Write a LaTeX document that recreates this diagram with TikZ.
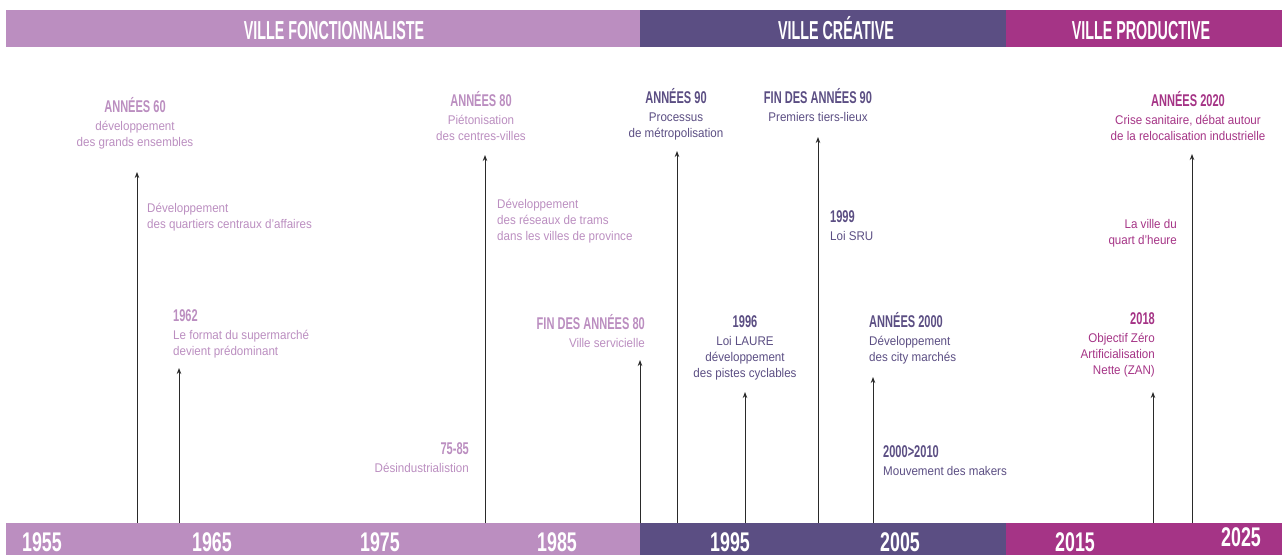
\documentclass[tikz,border=0pt]{standalone}
\usepackage{fontspec}
\usetikzlibrary{arrows.meta}
\setmainfont{Liberation Sans}
\newfontfamily\hdfam[FakeStretch=0.55]{Liberation Sans}
\newfontfamily\yrfam[FakeStretch=0.66]{Liberation Sans}
\newfontfamily\lhfam[FakeStretch=0.65]{Liberation Sans}
\newfontfamily\bdfam[FakeStretch=0.92]{Liberation Sans}
\definecolor{lightp}{HTML}{BB8EC0}
\definecolor{darkp}{HTML}{5B4E83}
\definecolor{magp}{HTML}{A53486}
\definecolor{arrc}{HTML}{2A2A2A}
\newcommand\bodyfont{\bdfam\fontsize{12.6}{16}\selectfont}
\newcommand\hd[1]{{\lhfam\bfseries\fontsize{17}{17}\selectfont #1}\\[2pt]}
\tikzset{
  lab/.style={inner sep=0pt, font=\bodyfont},
  barhead/.style={inner sep=0pt, text=white, font=\hdfam\bfseries\fontsize{26}{26}\selectfont, anchor=base},
  yearlab/.style={inner sep=0pt, text=white, font=\yrfam\bfseries\fontsize{27}{27}\selectfont, anchor=base},
  arr/.style={draw=arrc, line width=0.9pt, -{Stealth[length=6pt,width=4.5pt]}}
}
\begin{document}
\begin{tikzpicture}[x=1pt,y=-1pt]
\useasboundingbox (0,0) rectangle (1282,555);
% top bars
\fill[lightp] (6,10) rectangle (640,46.7);
\fill[darkp] (640,10) rectangle (1006,46.7);
\fill[magp] (1006,10) rectangle (1282,46.7);
\node[barhead] (hfonc) at (334,39) {VILLE FONCTIONNALISTE};
\node[barhead] (hcrea) at (836,39) {VILLE CRÉATIVE};
\node[barhead] (hprod) at (1141,39) {VILLE PRODUCTIVE};
% bottom bars
\fill[lightp] (6,523) rectangle (640,555);
\fill[darkp] (640,523) rectangle (1006,555);
\fill[magp] (1006,523) rectangle (1282,555);
\node[yearlab] (y55) at (42,551) {1955};
\node[yearlab] (y65) at (212,551) {1965};
\node[yearlab] (y75) at (380,551) {1975};
\node[yearlab] (y85) at (557,551) {1985};
\node[yearlab] (y95) at (730,551) {1995};
\node[yearlab] (y05) at (900,551) {2005};
\node[yearlab] (y15) at (1075,551) {2015};
\node[yearlab] (y25) at (1241,546) {2025};
% labels
\node[lab, text=lightp, anchor=base] (l60) at (135,112)
  {\begin{tabular}[t]{@{}c@{}}\hd{ANNÉES 60}développement\\des grands ensembles\end{tabular}};
\node[lab, text=lightp, anchor=base west] (lqca) at (147,212)
  {\begin{tabular}[t]{@{}l@{}}Développement\\des quartiers centraux d’affaires\end{tabular}};
\node[lab, text=lightp, anchor=base west] (l62) at (173,321)
  {\begin{tabular}[t]{@{}l@{}}\hd{1962}Le format du supermarché\\devient prédominant\end{tabular}};
\node[lab, text=lightp, anchor=base] (l80) at (481,106)
  {\begin{tabular}[t]{@{}c@{}}\hd{ANNÉES 80}Piétonisation\\des centres-villes\end{tabular}};
\node[lab, text=lightp, anchor=base west] (ltram) at (497,208)
  {\begin{tabular}[t]{@{}l@{}}Développement\\des réseaux de trams\\dans les villes de province\end{tabular}};
\node[lab, text=lightp, anchor=base east] (l7585) at (469,454)
  {\begin{tabular}[t]{@{}r@{}}\hd{75-85}Désindustrialistion\end{tabular}};
\node[lab, text=lightp, anchor=base east] (lf80) at (645,329)
  {\begin{tabular}[t]{@{}r@{}}\hd{FIN DES ANNÉES 80}Ville servicielle\end{tabular}};
\node[lab, text=darkp, anchor=base] (l90) at (676,103)
  {\begin{tabular}[t]{@{}c@{}}\hd{ANNÉES 90}Processus\\de métropolisation\end{tabular}};
\node[lab, text=darkp, anchor=base] (lf90) at (818,103)
  {\begin{tabular}[t]{@{}c@{}}\hd{FIN DES ANNÉES 90}Premiers tiers-lieux\end{tabular}};
\node[lab, text=darkp, anchor=base west] (l99) at (830,222)
  {\begin{tabular}[t]{@{}l@{}}\hd{1999}Loi SRU\end{tabular}};
\node[lab, text=darkp, anchor=base] (l96) at (745,327)
  {\begin{tabular}[t]{@{}c@{}}\hd{1996}Loi LAURE\\développement\\des pistes cyclables\end{tabular}};
\node[lab, text=darkp, anchor=base west] (l2000) at (869,327)
  {\begin{tabular}[t]{@{}l@{}}\hd{ANNÉES 2000}Développement\\des city marchés\end{tabular}};
\node[lab, text=darkp, anchor=base west] (lmak) at (883,457)
  {\begin{tabular}[t]{@{}l@{}}\hd{2000>2010}Mouvement des makers\end{tabular}};
\node[lab, text=magp, anchor=base] (l2020) at (1188,106)
  {\begin{tabular}[t]{@{}c@{}}\hd{ANNÉES 2020}Crise sanitaire, débat autour\\de la relocalisation industrielle\end{tabular}};
\node[lab, text=magp, anchor=base east] (lqh) at (1177,228)
  {\begin{tabular}[t]{@{}r@{}}La ville du\\quart d’heure\end{tabular}};
\node[lab, text=magp, anchor=base east] (l18) at (1155,324)
  {\begin{tabular}[t]{@{}r@{}}\hd{2018}Objectif Zéro\ \\Artificialisation\\Nette (ZAN)\end{tabular}};
% arrow coordinates
\coordinate (b60) at (137,523);   \coordinate (t60) at (137,172);
\coordinate (b62) at (179,523);   \coordinate (t62) at (179,368);
\coordinate (b80) at (485,523);   \coordinate (t80) at (485,155);
\coordinate (bf80) at (640,523);  \coordinate (tf80) at (640,360);
\coordinate (b90) at (677,523);   \coordinate (t90) at (677,151);
\coordinate (b96) at (745,523);   \coordinate (t96) at (745,392);
\coordinate (bf90) at (818,523);  \coordinate (tf90) at (818,137);
\coordinate (b2000) at (873,523); \coordinate (t2000) at (873,377);
\coordinate (b18) at (1153,523);  \coordinate (t18) at (1153,392);
\coordinate (b2020) at (1192,523);\coordinate (t2020) at (1192,154);
\draw[arr] (b60) -- (t60);
\draw[arr] (b62) -- (t62);
\draw[arr] (b80) -- (t80);
\draw[arr] (bf80) -- (tf80);
\draw[arr] (b90) -- (t90);
\draw[arr] (b96) -- (t96);
\draw[arr] (bf90) -- (tf90);
\draw[arr] (b2000) -- (t2000);
\draw[arr] (b18) -- (t18);
\draw[arr] (b2020) -- (t2020);
\end{tikzpicture}
\end{document}
